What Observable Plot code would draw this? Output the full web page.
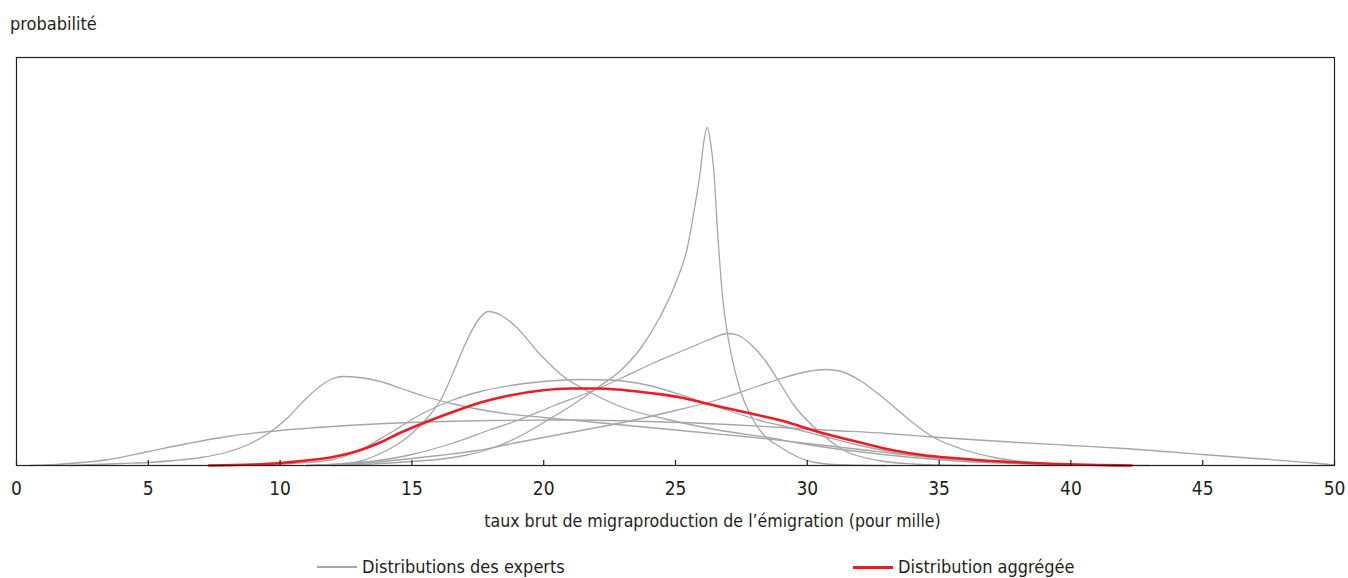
<!DOCTYPE html>
<html>
<head>
<meta charset="utf-8">
<script src="https://cdn.jsdelivr.net/npm/d3@7"></script>
<script src="https://cdn.jsdelivr.net/npm/@observablehq/plot@0.6"></script>
<style>
  body { margin: 0; background: #fff; color: #231f20; position: relative; height: 578px; overflow: hidden;
         font-family: "Liberation Sans Narrow", "Arial Narrow", "DejaVu Sans Condensed", sans-serif; }
  #title { height: 45px; box-sizing: border-box; padding: 14px 0 0 10px; font-size: 18px; line-height: 20px; }
  #chart svg { display: block; }
  #legend { position: absolute; left: 0; top: 558px; width: 1348px; height: 18px; font-size: 18px; line-height: 18px; }
  .item { position: absolute; top: 0; white-space: nowrap; }
  .sw { display: inline-block; width: 40px; height: 2px; vertical-align: middle; margin-right: 5px; position: relative; top: -1px; }
</style>
</head>
<body>
<div id="title">probabilité</div>
<div id="chart"></div>
<div id="legend">
  <div class="item" style="left:317px"><span class="sw" style="background:#a6a6a6"></span>Distributions des experts</div>
  <div class="item" style="left:853px"><span class="sw" style="background:#ed1c24;height:3px"></span>Distribution aggrégée</div>
</div>
<script>
// x ticks
const xTicks = [0, 5, 10, 15, 20, 25, 30, 35, 40, 45, 50];
const xLabel = "taux brut de migraproduction de l’émigration (pour mille)";

// expert distributions: [taux, probabilité (relative units)]
const expert1 = [[0.5,0],[1.5,1],[2.5,3],[3.5,6],[5,14],[6.5,22],[8,29],[10,35],[12,39],[15,43],[18,45],[21,45.5],[24,44],[27,41],[29,38],[31,35],[33,32],[35,28],[38,23],[40,20],[42,17],[45,11],[47,7],[49,3],[50,0.5]];
const expert2 = [[2,0],[3,1],[4,2],[5,3],[6,5],[7,8],[8,13.5],[8.8,21],[9.6,33],[10.3,48],[10.8,62],[11.5,79],[12,87],[12.4,89],[13,88],[13.8,84],[14.6,77],[15.5,69],[16.5,62],[18,54],[20,48],[22,43],[24,38],[26,33],[28,28],[30,22],[32,16],[34,10],[36,6],[38,3],[40,1],[43,0]];
const expert3 = [[11,0],[12,1],[13,4],[13.8,12],[14.5,22],[15,32],[15.6,48],[16.1,66],[16.6,95],[17,120],[17.5,145],[17.9,154],[18.4,150],[18.9,140],[19.9,110],[20.8,88],[21.7,74],[23,58],[24.7,46],[26.5,36],[28.5,28],[30,21],[31.6,15],[34,8],[36,4],[38,2],[40,0.5],[42,0]];
const expert4 = [[12,0],[13.5,1.5],[15,4],[16,6],[17,10],[18,17],[19,28],[20,43],[21,59],[22,77],[23,97],[23.7,118],[24.4,148],[25,182],[25.45,218],[25.7,254],[25.95,296],[26.07,323],[26.2,338],[26.33,323],[26.45,296],[26.6,232],[26.8,165],[26.97,132],[27.1,113],[27.46,75],[27.96,45],[28.3,32],[29,18],[29.6,9],[30.3,3],[31.5,0.5],[33,0]];
const expert5 = [[11,0],[12.5,2],[14,6],[15,11],[16.5,22],[18,36],[19,45],[20.4,60],[21.7,73],[23,88],[24.2,103],[25.2,114],[26.2,125],[27,132],[27.4,130],[27.9,120],[28.4,105],[28.9,85],[29.5,60],[30.4,35],[31.4,15],[32.7,5],[34,1.5],[36,0]];
const expert6 = [[12,0],[13.5,3],[15,7],[16,10],[17.5,15],[19,23],[21,33],[23,43],[25,55],[26.5,65],[28.2,80],[29,87],[30,94],[30.7,96],[31.3,94],[32,85],[33,65],[33.9,45],[34.8,28],[35.8,17],[37.1,8],[38.5,3],[40,1],[42,0]];
const expert7 = [[9,0],[10.5,2],[12,6],[13,15],[14.2,33],[15.4,52],[16.5,65],[17.6,74],[19,81],[20.5,85],[21.5,86],[22.5,85.5],[24,80],[25.5,68],[27,55],[28.2,45],[29,40],[30.5,30],[32,20],[34,10],[36,5],[38,2],[40,0]];

// aggregated distribution
const aggregate = [[7.3,0],[9,1],[10,2.5],[11,5],[12,8.5],[13,15],[13.8,23],[14.5,32],[15.4,42],[16.5,53],[17.6,63],[18.7,70],[19.9,75],[21,77],[22,77],[23,75.5],[24.2,72],[25.2,68],[26,63],[27,57],[28.2,50],[29,45],[30.5,33],[32,23],[33.3,15],[34.5,10],[35.8,7],[37,4.5],[38.1,3],[39.5,1.5],[41,0.5],[42.3,0]];

const experts = [expert1, expert2, expert3, expert4, expert5, expert6, expert7]
  .flatMap((arr, i) => arr.map(([x, y]) => ({id: i, x, y})));
const agg = aggregate.map(([x, y]) => ({x, y}));

const chart = Plot.plot({
  width: 1348,
  height: 510,
  marginLeft: 16,
  marginRight: 14,
  marginTop: 12,
  marginBottom: 90,
  style: {fontFamily: '"Liberation Sans Narrow", "Arial Narrow", "DejaVu Sans Condensed", sans-serif', fontSize: "19px", color: "#231f20", background: "#fff"},
  x: {domain: [0, 50]},
  y: {domain: [0, 408], axis: null},
  marks: [
    Plot.line(experts, {x: "x", y: "y", z: "id", stroke: "#a6a6a6", strokeWidth: 1.3, curve: "monotone-x"}),
    Plot.line(agg, {x: "x", y: "y", stroke: "#ed1c24", strokeWidth: 2.6, curve: "monotone-x"}),
    Plot.frame({stroke: "#231f20", strokeWidth: 1.2}),
    Plot.tickX(xTicks, {x: d => d, insetTop: 403, stroke: "#231f20", strokeWidth: 1.2}),
    Plot.axisX(xTicks, {tickSize: 0, tickPadding: 16, label: null}),
    Plot.text([xLabel], {text: d => d, frameAnchor: "bottom", dy: 61, dx: 37, fontSize: 17.6})
  ]
});
document.getElementById("chart").appendChild(chart);
</script>
</body>
</html>
